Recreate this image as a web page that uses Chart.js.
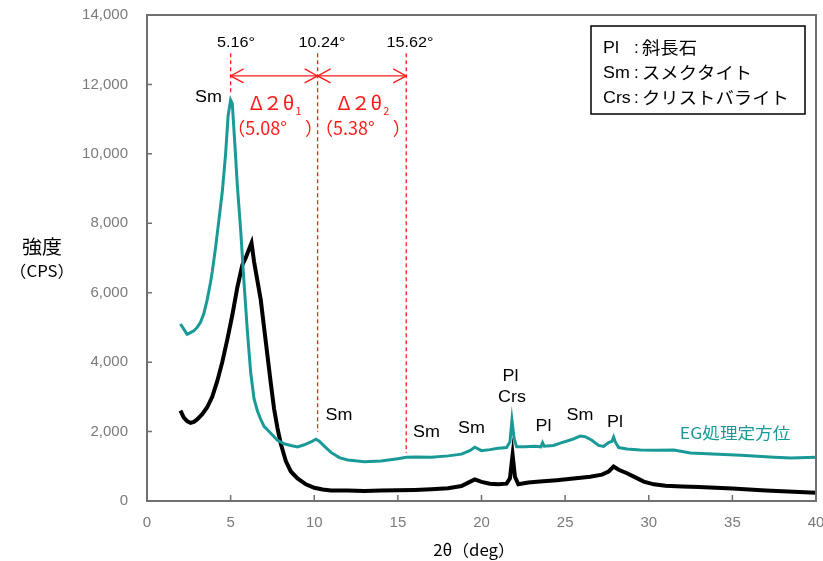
<!DOCTYPE html>
<html>
<head>
<meta charset="utf-8">
<script src="https://cdn.jsdelivr.net/npm/chart.js@4.4.0/dist/chart.umd.min.js"></script>
<style>
  html, body { margin: 0; padding: 0; background: #fff; }
  #wrap { width: 823px; height: 561px; }
</style>
</head>
<body>
<div id="wrap"><canvas id="xrd"></canvas></div>
<script>
// --- data ---
const egX = [2.0, 2.2, 2.4, 2.6, 2.8, 3.0, 3.2, 3.4, 3.6, 3.8, 3.9, 4.1, 4.3, 4.5, 4.7, 4.85, 5.0, 5.1, 5.25, 5.4,
  5.6, 5.8, 6.0, 6.2, 6.4, 6.6, 6.8, 7.0, 7.4, 7.8, 8.2, 8.6, 9.0, 9.4, 9.8, 10.1, 10.3, 10.6, 11.0, 11.5,
  12.0, 13.0, 14.0, 15.0, 15.5, 16.0, 17.0, 18.0, 18.8, 19.3, 19.6, 20.0, 20.5, 21.0, 21.5, 21.7, 21.82, 21.95, 22.1, 22.6,
  23.2, 23.55, 23.65, 23.75, 24.3, 24.8, 25.4, 25.9, 26.2, 26.6, 27.0, 27.3, 27.6, 27.8, 27.9, 28.0, 28.2, 28.7, 29.5, 30.5,
  31.5, 32.5, 33.5, 34.5, 35.5, 36.5, 37.5, 38.5, 39.5, 40.0];
const egY = [5100, 4950, 4800, 4850, 4900, 5000, 5150, 5400, 5800, 6300, 6600, 7300, 8100, 8900, 10000, 11100, 11550, 11450, 10300, 9100,
  7800, 6300, 4900, 3700, 2950, 2600, 2350, 2150, 1950, 1750, 1650, 1600, 1560, 1620, 1700, 1780, 1720, 1580, 1400, 1250,
  1180, 1130, 1150, 1220, 1260, 1270, 1260, 1300, 1350, 1450, 1550, 1450, 1480, 1520, 1540, 1700, 2330, 1800, 1560, 1560,
  1580, 1560, 1680, 1580, 1600, 1680, 1770, 1870, 1850, 1750, 1600, 1570, 1680, 1720, 1840, 1700, 1540, 1500, 1470, 1460,
  1470, 1380, 1360, 1340, 1320, 1290, 1260, 1240, 1250, 1260];

const rawX = [2.0, 2.2, 2.4, 2.6, 2.8, 3.0, 3.3, 3.6, 3.9, 4.2, 4.5, 4.8, 5.1, 5.4, 5.7, 5.9, 6.1, 6.25, 6.4, 6.6,
  6.8, 7.0, 7.2, 7.4, 7.6, 7.8, 8.0, 8.3, 8.6, 9.0, 9.5, 10.0, 10.5, 11.0, 12.0, 13.0, 14.0, 15.0, 16.0, 17.0,
  18.0, 18.8, 19.3, 19.6, 20.0, 20.5, 21.0, 21.5, 21.7, 21.86, 22.0, 22.2, 22.8, 23.5, 24.5, 25.5, 26.5, 27.2, 27.6, 27.9,
  28.2, 28.7, 29.2, 29.7, 30.3, 31.0, 32.0, 33.0, 34.0, 35.0, 36.0, 37.0, 38.0, 39.0, 40.0];
const rawY = [2600, 2400, 2300, 2250, 2280, 2350, 2500, 2700, 3000, 3450, 4000, 4650, 5350, 6150, 6800, 7000, 7250, 7430, 6900, 6350,
  5800, 5000, 4200, 3400, 2650, 2100, 1650, 1150, 850, 650, 480, 380, 330, 300, 300, 290, 300, 310, 320, 340,
  370, 430, 550, 620, 550, 500, 480, 500, 650, 1330, 700, 480, 530, 560, 600, 650, 700, 760, 850, 990,
  900, 800, 680, 560, 480, 440, 420, 400, 380, 360, 330, 300, 280, 260, 240];

const yTicks = [0, 2000, 4000, 6000, 8000, 10000, 12000, 14000];
const xTicks = [0, 5, 10, 15, 20, 25, 30, 35, 40];

// peak labels (text, 2θ, cps)
const peakText = ['Sm', 'Sm', 'Sm', 'Sm', 'Pl', 'Crs', 'Pl', 'Sm', 'Pl'];
const peakX = [3.68, 11.48, 16.71, 19.40, 21.73, 21.82, 23.71, 25.89, 27.98];
const peakY = [11610, 2450, 1960, 2100, 3570, 2970, 2130, 2450, 2250];

// d-spacing guide lines (2θ, top cps, bottom cps)
const guideX = [5.0, 10.2, 15.5];
const guideTop = [12900, 12900, 12900];
const guideEnd = [11700, 1990, 1380];
const guideText = ['5.16°', '10.24°', '15.62°'];
const guideTextX = [5.32, 10.46, 15.72];
const arrowY = 12245;
const deltaText = ['5.08°', '5.38°'];

const legendLines = [['Pl', '斜長石'], ['Sm', 'スメクタイト'], ['Crs', 'クリストバライト']];

const TEAL = '#1a9a97';
const RED = '#ff1a1a';
const JP = '"Noto Sans CJK JP", "Noto Sans", sans-serif';
const LAT = '"Liberation Sans", Arial, sans-serif';

function pts(xs, ys) { return xs.map((x, i) => ({ x: x, y: ys[i] })); }

// draw text, optionally stretched horizontally
function txt(ctx, s, x, y, font, color, align, sx) {
  sx = sx || 1;
  ctx.save();
  ctx.font = font;
  ctx.fillStyle = color;
  ctx.textBaseline = 'middle';
  ctx.textAlign = 'left';
  const w = ctx.measureText(s).width * sx;
  let x0 = x;
  if (align === 'center') x0 = x - w / 2;
  else if (align === 'right') x0 = x - w;
  ctx.translate(x0, y);
  ctx.scale(sx, 1);
  ctx.fillText(s, 0, 0);
  ctx.restore();
  return w;
}

function arrowHead(ctx, x, y, dir) {
  ctx.beginPath();
  ctx.moveTo(x + dir * 13, y - 7);
  ctx.lineTo(x, y);
  ctx.lineTo(x + dir * 13, y + 7);
  ctx.stroke();
}

const decor = {
  id: 'decor',
  afterDatasetsDraw(chart) {
    const ctx = chart.ctx;
    const xs = chart.scales.x, ys = chart.scales.y;
    const a = chart.chartArea;

    // frame
    ctx.save();
    ctx.strokeStyle = '#707070';
    ctx.lineWidth = 2;
    ctx.strokeRect(a.left, a.top, a.right - a.left, a.bottom - a.top);
    // inner ticks
    ctx.lineWidth = 1.5;
    ctx.beginPath();
    yTicks.forEach(v => { const py = ys.getPixelForValue(v); ctx.moveTo(a.left, py); ctx.lineTo(a.left + 5, py); });
    xTicks.forEach(v => { const px = xs.getPixelForValue(v); ctx.moveTo(px, a.bottom); ctx.lineTo(px, a.bottom - 6); });
    ctx.stroke();
    ctx.restore();

    // guide lines and arrows
    ctx.save();
    ctx.strokeStyle = RED;
    ctx.lineWidth = 1.3;
    ctx.setLineDash([4, 3]);
    guideX.forEach((g, i) => {
      const px = xs.getPixelForValue(g);
      ctx.beginPath();
      ctx.moveTo(px, ys.getPixelForValue(guideTop[i]));
      ctx.lineTo(px, ys.getPixelForValue(guideEnd[i]));
      ctx.stroke();
    });
    ctx.setLineDash([]);
    const ay = ys.getPixelForValue(arrowY);
    for (let i = 0; i < guideX.length - 1; i++) {
      const x1 = xs.getPixelForValue(guideX[i]), x2 = xs.getPixelForValue(guideX[i + 1]);
      ctx.beginPath();
      ctx.moveTo(x1, ay);
      ctx.lineTo(x2, ay);
      ctx.stroke();
      arrowHead(ctx, x1, ay, 1);
      arrowHead(ctx, x2, ay, -1);
    }
    ctx.restore();

    // guide values
    guideText.forEach((t, i) => {
      txt(ctx, t, xs.getPixelForValue(guideTextX[i]), ys.getPixelForValue(13190), '15px ' + LAT, '#000', 'center', 1.08);
    });

    // Δ2θ labels
    for (let i = 0; i < deltaText.length; i++) {
      const cx = (xs.getPixelForValue(guideX[i]) + xs.getPixelForValue(guideX[i + 1])) / 2 + 1;
      const y1 = ys.getPixelForValue(11465);
      ctx.save();
      ctx.font = '19px ' + JP;
      const w = ctx.measureText('Δ２θ').width * 1.05;
      ctx.restore();
      const x0 = cx - (w + 6) / 2;
      txt(ctx, 'Δ２θ', x0, y1, '19px ' + JP, RED, 'left', 1.05);
      txt(ctx, String(i + 1), x0 + w + 1, y1 + 8, '11px ' + JP, RED, 'left');
      const y2 = ys.getPixelForValue(10745);
      const w2 = txt(ctx, '（' + deltaText[i] + '　）', cx, y2, '18px ' + JP, RED, 'center', 1.0);
    }

    // peak labels
    peakText.forEach((t, i) => {
      txt(ctx, t, xs.getPixelForValue(peakX[i]), ys.getPixelForValue(peakY[i]), '16px ' + LAT, '#000', 'center', 1.12);
    });
    txt(ctx, 'EG処理定方位', xs.getPixelForValue(35.16), ys.getPixelForValue(1960), '16px ' + JP, TEAL, 'center', 1.1);

    // legend box
    ctx.save();
    ctx.strokeStyle = '#000';
    ctx.lineWidth = 1.5;
    ctx.strokeRect(591, 26, 214, 88);
    ctx.restore();
    legendLines.forEach((l, i) => {
      const y = 48 + i * 25;
      txt(ctx, l[0], 603, y, '17px ' + LAT, '#000', 'left', 1.05);
      txt(ctx, ':', 634, y, '17px ' + LAT, '#000', 'left');
      txt(ctx, l[1], 642, y, '17px ' + JP, '#000', 'left', 1.08);
    });

    // axis titles
    txt(ctx, '強度', 42, 247, '19px ' + JP, '#000', 'center', 1.05);
    txt(ctx, '（CPS）', 42, 271, '16px ' + JP, '#000', 'center', 1.05);
    txt(ctx, '2θ（deg）', 474, 550, '16px ' + JP, '#000', 'center', 1.05);
  }
};

new Chart(document.getElementById('xrd'), {
  type: 'scatter',
  data: {
    datasets: [
      {
        label: 'EG処理定方位',
        data: pts(egX, egY),
        showLine: true,
        borderColor: TEAL,
        borderWidth: 3,
        pointRadius: 0,
        tension: 0
      },
      {
        label: '未処理',
        data: pts(rawX, rawY),
        showLine: true,
        borderColor: '#000',
        borderWidth: 4,
        pointRadius: 0,
        tension: 0
      }
    ]
  },
  options: {
    responsive: true,
    maintainAspectRatio: false,
    animation: false,
    layout: { padding: { left: 0, top: 15, right: 7, bottom: 0 } },
    plugins: { legend: { display: false }, tooltip: { enabled: false } },
    scales: {
      x: {
        type: 'linear',
        min: 0, max: 40,
        afterFit: s => { s.height = 60; s.paddingLeft = 0; s.paddingRight = 0; },
        afterBuildTicks: s => { s.ticks = xTicks.map(v => ({ value: v })); },
        grid: { display: false, drawTicks: false },
        border: { display: false },
        ticks: { color: '#7a7a7a', font: { family: LAT, size: 15 }, padding: 13, maxRotation: 0 }
      },
      y: {
        min: 0, max: 14000,
        afterFit: s => { s.width = 147; s.paddingTop = 0; s.paddingBottom = 0; },
        afterBuildTicks: s => { s.ticks = yTicks.map(v => ({ value: v })); },
        grid: { display: false, drawTicks: false },
        border: { display: false },
        ticks: {
          color: '#7a7a7a', font: { family: LAT, size: 15 }, padding: 19,
          callback: v => String(v).replace(/\B(?=(\d{3})+(?!\d))/g, ',')
        }
      }
    }
  },
  plugins: [decor]
});
</script>
</body>
</html>
